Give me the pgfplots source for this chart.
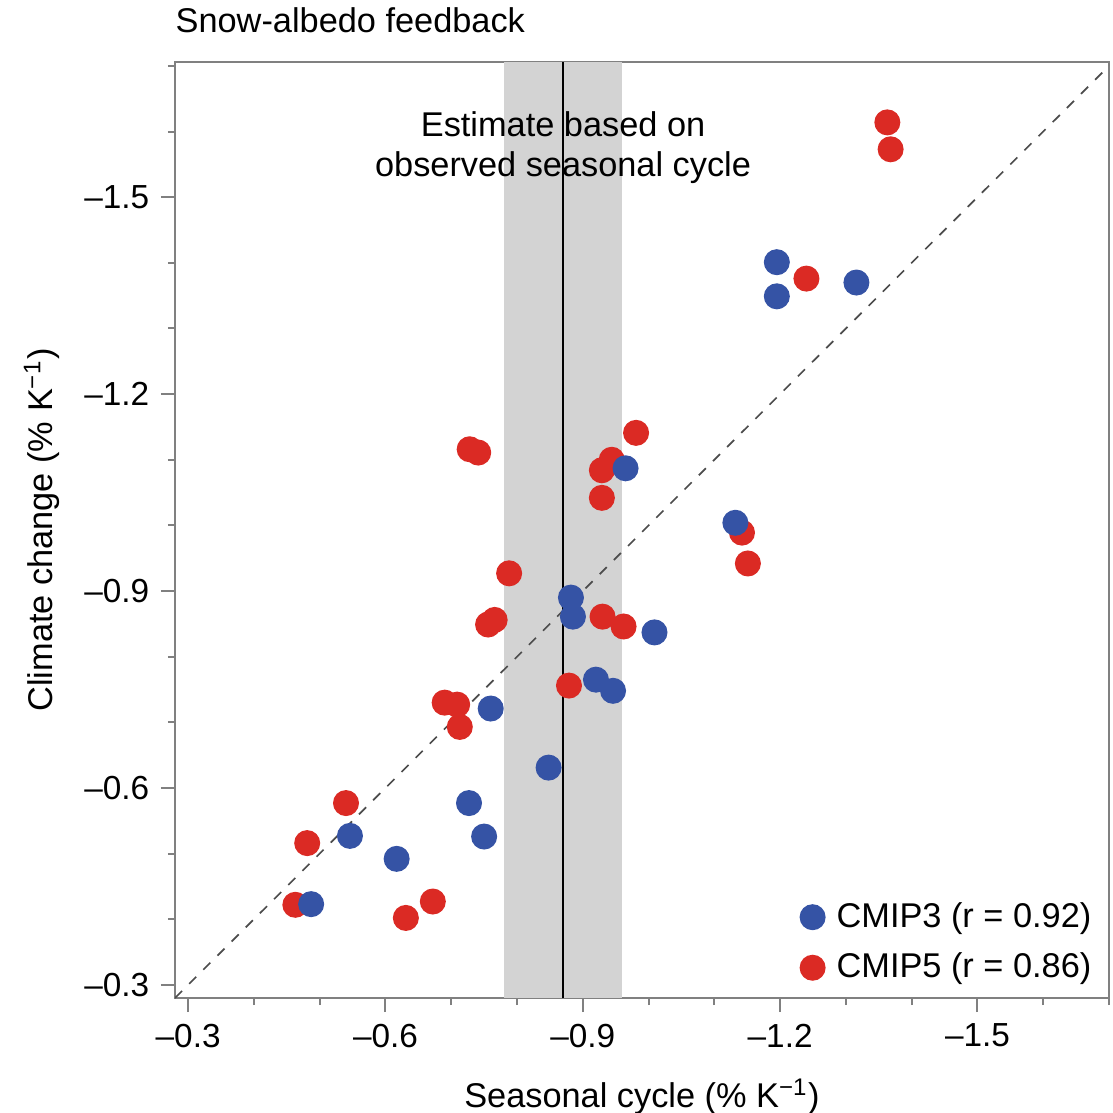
\documentclass[border=0pt]{standalone}
\usepackage{fontspec}
\setmainfont{Liberation Sans}
\usepackage{pgfplots}
\pgfplotsset{compat=1.18}
\definecolor{cmipblue}{HTML}{3553A5}
\definecolor{cmipred}{HTML}{DB2A24}
\definecolor{bandgray}{HTML}{D3D3D3}

\begin{document}
\begin{tikzpicture}
\begin{axis}[name=ax,scale only axis,width=280.2pt,height=280.8pt,
  x dir=reverse,y dir=reverse,
  xmin=-1.70,xmax=-0.28,ymin=-1.706,ymax=-0.280,
  xtick={-0.3,-0.6,-0.9,-1.2,-1.5},xticklabels={–0.3,–0.6,–0.9,–1.2,–1.5},
  ytick={-0.3,-0.6,-0.9,-1.2,-1.5},yticklabels={–0.3,–0.6,–0.9,–1.2,–1.5},
  minor xtick={-0.4,-0.5,-0.7,-0.8,-1.0,-1.1,-1.3,-1.4,-1.6,-1.7},
  minor ytick={-0.4,-0.5,-0.7,-0.8,-1.0,-1.1,-1.3,-1.4,-1.6,-1.7},
  tick align=outside,tick pos=left,
  major tick length=4.2pt,minor tick length=2.1pt,
  axis line style={black!50,line width=0.6pt},
  every tick/.style={black!50,line width=0.6pt},
  tick label style={font=\fontsize{10}{11}\selectfont},
  xlabel={Seasonal cycle (\% K\textsuperscript{−1})},
  ylabel={Climate change (\% K\textsuperscript{−1})},
  label style={font=\fontsize{10.3}{12}\selectfont},
  xlabel style={at={([yshift=-29.5pt]axis description cs:0.5,0)},anchor=center},
  ylabel style={at={([xshift=-40pt]axis description cs:0,0.5)},anchor=center},
  legend style={draw=none,fill=none,inner sep=0pt,at={(1,0)},anchor=south east,
    xshift=-3.1pt,yshift=2.4pt,font=\fontsize{10.3}{12}\selectfont,
    row sep=2.2pt,column sep=1.5pt},
  legend cell align=left,reverse legend]

  % observational estimate
  \addplot[fill=bandgray,draw=none,forget plot]
    coordinates {(-0.78,-0.28) (-0.96,-0.28) (-0.96,-1.706) (-0.78,-1.706)} -- cycle;

  % CMIP5
  \addplot[only marks,mark=*,mark size=3.7pt,cmipred] coordinates {
    (-0.463,-0.422) (-0.481,-0.516) (-0.540,-0.577) (-0.631,-0.402)
    (-0.672,-0.427) (-0.690,-0.730) (-0.709,-0.727) (-0.713,-0.693)
    (-0.728,-1.116) (-0.741,-1.111) (-0.756,-0.849) (-0.766,-0.856)
    (-0.788,-0.927) (-0.879,-0.756) (-0.929,-1.042) (-0.929,-1.084)
    (-0.944,-1.100) (-0.930,-0.861) (-0.962,-0.846) (-0.981,-1.141)
    (-1.142,-0.989) (-1.151,-0.942) (-1.240,-1.376) (-1.363,-1.614)
    (-1.368,-1.573)};
  \addlegendentry{CMIP5 (r = 0.86)}

  % CMIP3
  \addplot[only marks,mark=*,mark size=3.7pt,cmipblue] coordinates {
    (-0.487,-0.423) (-0.546,-0.527) (-0.617,-0.492) (-0.727,-0.577)
    (-0.750,-0.526) (-0.760,-0.721) (-0.848,-0.631) (-0.882,-0.890)
    (-0.885,-0.861) (-0.920,-0.765) (-0.946,-0.748) (-0.965,-1.087)
    (-1.009,-0.837) (-1.132,-1.004) (-1.195,-1.401) (-1.195,-1.349)
    (-1.316,-1.370)};
  \addlegendentry{CMIP3 (r = 0.92)}

  \addplot[black!70,line width=0.5pt,dash pattern=on 3pt off 3pt,forget plot]
    coordinates {(-0.28,-0.28) (-1.706,-1.706)};
  \addplot[black,line width=0.7pt,forget plot]
    coordinates {(-0.87,-0.28) (-0.87,-1.706)};

  \node[align=center,font=\fontsize{10.3}{12}\selectfont]
    at (axis cs:-0.87,-1.576) {Estimate based on\\observed seasonal cycle};
\end{axis}
\node[anchor=base west,inner sep=0pt,font=\fontsize{10.3}{12}\selectfont]
  at ([yshift=8.7pt]ax.north west) {Snow-albedo feedback};
\pgfresetboundingbox
\path ([xshift=-52.5pt,yshift=-34.5pt]ax.south west)
  rectangle ([xshift=1pt,yshift=18.6pt]ax.north east);
\end{tikzpicture}
\end{document}
